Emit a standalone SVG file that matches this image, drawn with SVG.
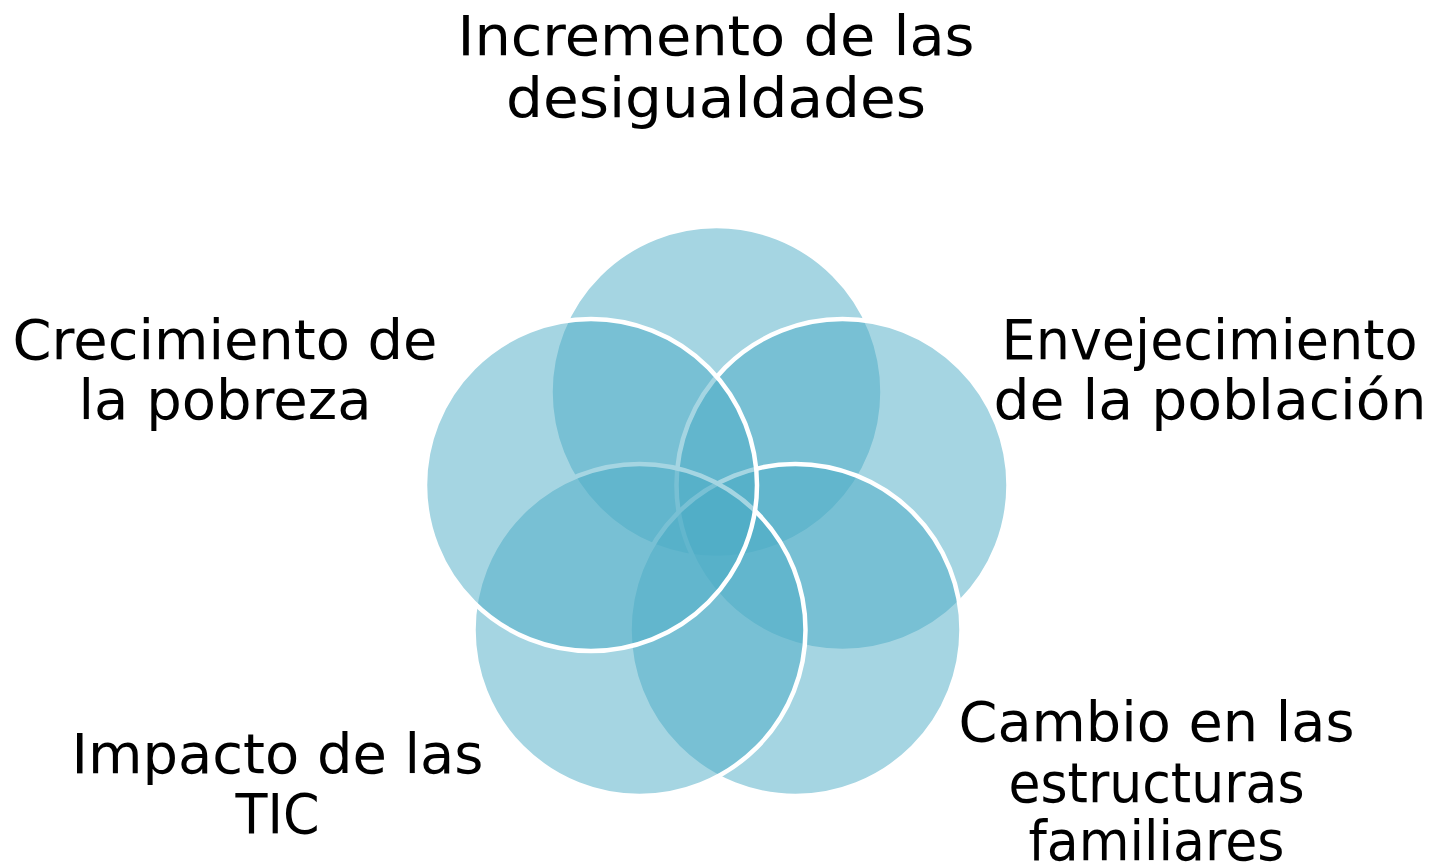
<svg xmlns="http://www.w3.org/2000/svg" width="1437" height="867" viewBox="0 0 1437 867">
<style>
.c{fill:#4BACC6;fill-opacity:0.5;stroke:#FFFFFF;stroke-width:4.5}
.t{font-family:"DejaVu Sans","Liberation Sans",sans-serif;font-size:56px;fill:#000000;text-anchor:middle}
</style>
<rect width="1437" height="867" fill="#FFFFFF"/>
<g id="connectors"></g>
<g id="node-desigualdades">
<circle class="c" cx="716.5" cy="392" r="166"/>
<text class="t" x="716" y="55" textLength="517" lengthAdjust="spacingAndGlyphs">Incremento de las</text>
<text class="t" x="716" y="117" textLength="420" lengthAdjust="spacingAndGlyphs">desigualdades</text>
</g>
<g id="node-envejecimiento">
<circle class="c" cx="842.5" cy="485" r="166"/>
<text class="t" x="1209.5" y="359" textLength="416" lengthAdjust="spacingAndGlyphs">Envejecimiento</text>
<text class="t" x="1210" y="419" textLength="433" lengthAdjust="spacingAndGlyphs">de la población</text>
</g>
<g id="node-familias">
<circle class="c" cx="795.5" cy="630" r="166"/>
<text class="t" x="1156.5" y="741" textLength="396" lengthAdjust="spacingAndGlyphs">Cambio en las</text>
<text class="t" x="1156.5" y="802" textLength="296" lengthAdjust="spacingAndGlyphs">estructuras</text>
<text class="t" x="1156.5" y="860" textLength="256" lengthAdjust="spacingAndGlyphs">familiares</text>
</g>
<g id="node-tic">
<circle class="c" cx="639.5" cy="630" r="166"/>
<text class="t" x="277.5" y="773" textLength="412" lengthAdjust="spacingAndGlyphs">Impacto de las</text>
<text class="t" x="277.5" y="833" textLength="84" lengthAdjust="spacingAndGlyphs">TIC</text>
</g>
<g id="node-pobreza">
<circle class="c" cx="591" cy="485" r="166"/>
<text class="t" x="225" y="359" textLength="425" lengthAdjust="spacingAndGlyphs">Crecimiento de</text>
<text class="t" x="225" y="419" textLength="293" lengthAdjust="spacingAndGlyphs">la pobreza</text>
</g>
</svg>
